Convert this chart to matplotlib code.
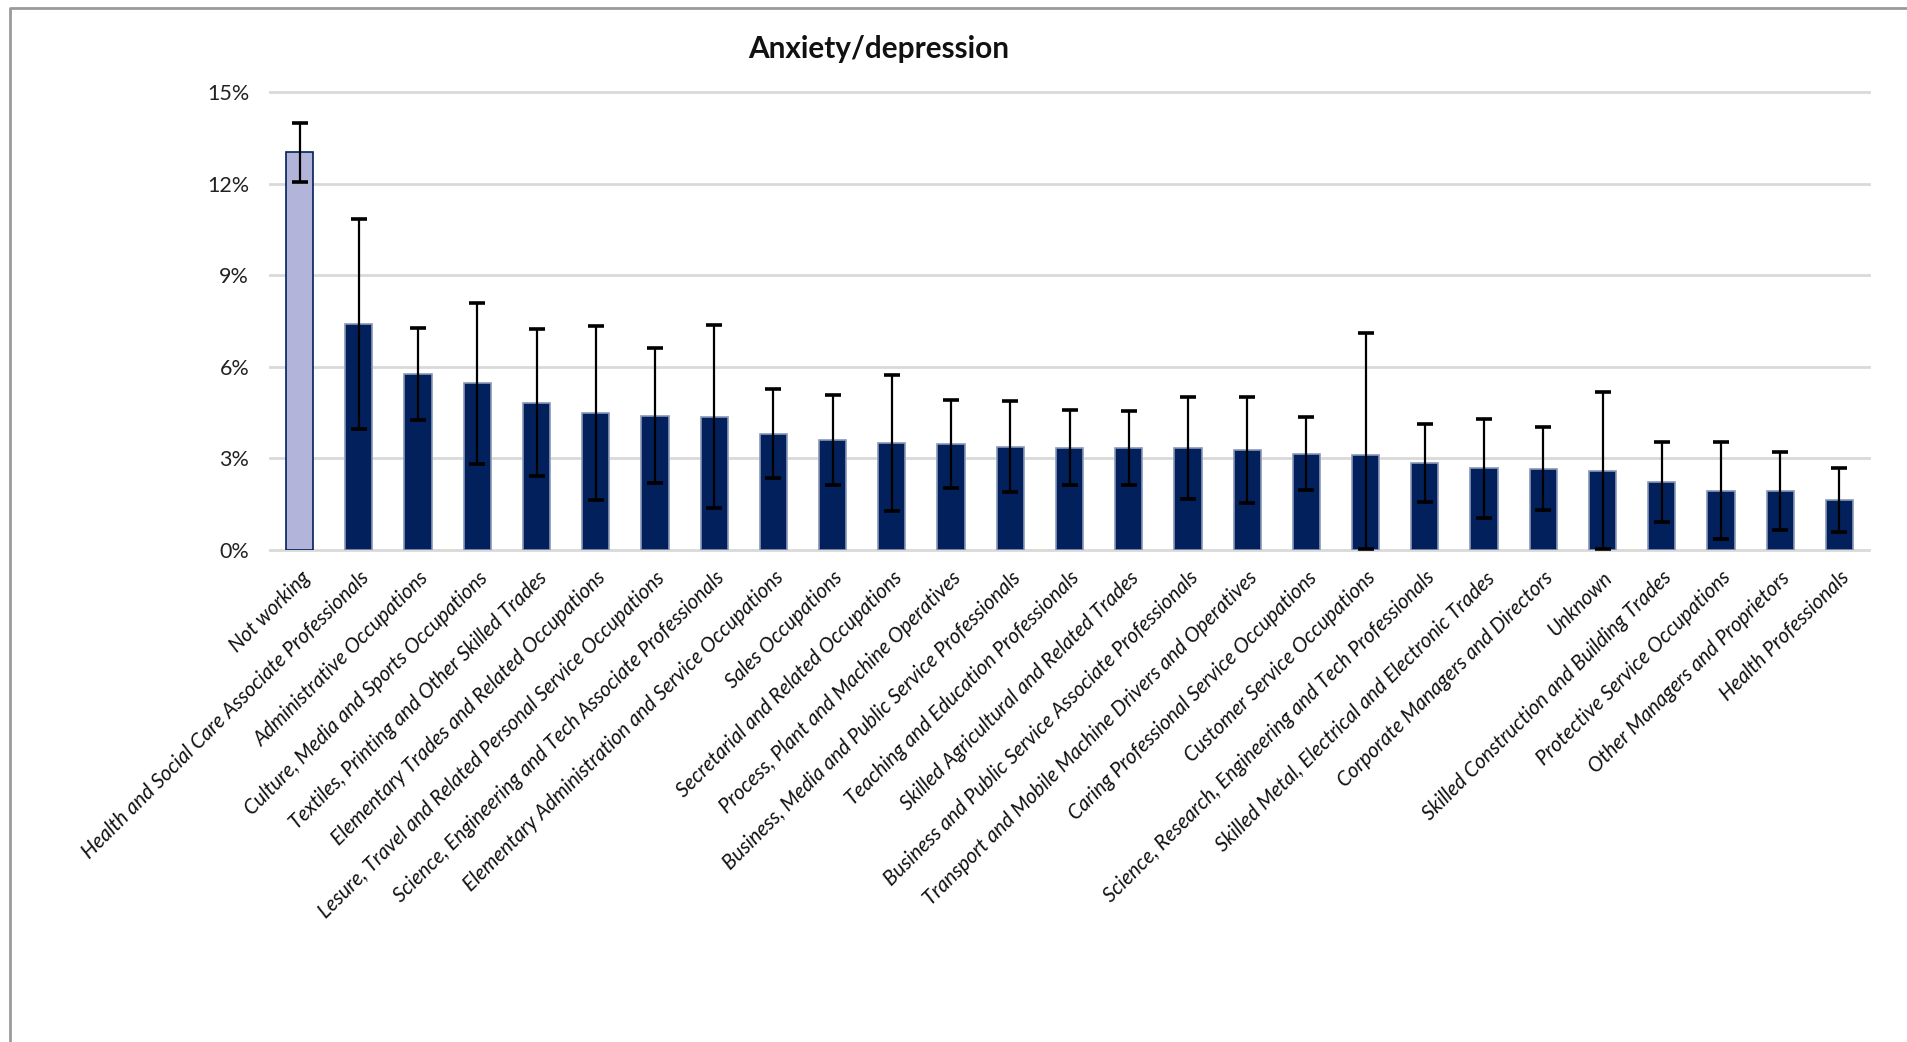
import numpy as np
import matplotlib
matplotlib.use("Agg")
import matplotlib.pyplot as plt
from matplotlib.lines import Line2D
from matplotlib.ticker import PercentFormatter

# occupation categories (x axis)
occupations = [
    "Not working",
    "Health and Social Care Associate Professionals",
    "Administrative Occupations",
    "Culture, Media and Sports Occupations",
    "Textiles, Printing and Other Skilled Trades",
    "Elementary Trades and Related Occupations",
    "Lesure, Travel and Related Personal Service Occupations",
    "Science, Engineering and Tech Associate Professionals",
    "Elementary Administration and Service Occupations",
    "Sales Occupations",
    "Secretarial and Related Occupations",
    "Process, Plant and Machine Operatives",
    "Business, Media and Public Service Professionals",
    "Teaching and Education Professionals",
    "Skilled Agricultural and Related Trades",
    "Business and Public Service Associate Professionals",
    "Transport and Mobile Machine Drivers and Operatives",
    "Caring Professional Service Occupations",
    "Customer Service Occupations",
    "Science, Research, Engineering and Tech Professionals",
    "Skilled Metal, Electrical and Electronic Trades",
    "Corporate Managers and Directors",
    "Unknown",
    "Skilled Construction and Building Trades",
    "Protective Service Occupations",
    "Other Managers and Proprietors",
    "Health Professionals",
]

# prevalence (%) and confidence interval bounds (%)
prevalence = [13.03, 7.39, 5.75, 5.45, 4.81, 4.49, 4.39, 4.36, 3.80, 3.58,
              3.49, 3.46, 3.37, 3.34, 3.33, 3.33, 3.26, 3.14, 3.11, 2.85,
              2.66, 2.65, 2.57, 2.21, 1.92, 1.91, 1.62]
ci_low = [12.06, 3.94, 4.26, 2.81, 2.40, 1.64, 2.18, 1.36, 2.35, 2.11,
          1.27, 2.03, 1.90, 2.12, 2.13, 1.67, 1.54, 1.95, 0.02, 1.57,
          1.02, 1.29, 0.02, 0.90, 0.34, 0.64, 0.57]
ci_high = [14.00, 10.86, 7.27, 8.10, 7.23, 7.34, 6.61, 7.38, 5.26, 5.06,
           5.72, 4.90, 4.86, 4.59, 4.56, 5.02, 5.02, 4.34, 7.10, 4.13,
           4.30, 4.01, 5.16, 3.54, 3.53, 3.20, 2.66]

y = np.array(prevalence) / 100
lo = y - np.array(ci_low) / 100
hi = np.array(ci_high) / 100 - y
x = np.arange(len(occupations))

navy = "#02205c"
colors = ["#b2b4d9"] + [navy] * (len(x) - 1)
edges = [navy] + ["#8a97b8"] * (len(x) - 1)

fig = plt.figure(figsize=(19.07, 10.42), dpi=100)
ax = fig.add_axes([0.1416, 0.4726, 0.8385, 0.4387])

ax.bar(x, y, width=0.46, color=colors, edgecolor=edges, linewidth=1.2, zorder=3)
ax.errorbar(x, y, yerr=[lo, hi], fmt="none", ecolor="black", elinewidth=1.6,
            capsize=6, capthick=2.6, zorder=4)

ax.set_xlim(-0.5, len(x) - 0.5)
ax.set_ylim(0, 0.15)
ax.set_yticks(np.arange(0, 0.151, 0.03))
ax.yaxis.set_major_formatter(PercentFormatter(1.0, decimals=0))
ax.grid(axis="y", color="#d9d9d9", linewidth=2, zorder=0)
for gl in ax.get_ygridlines():
    gl.set_clip_on(False)
for s in ax.spines.values():
    s.set_visible(False)
ax.tick_params(axis="y", length=0, pad=15, labelsize=15.5, labelcolor="#222222")
ax.tick_params(axis="x", length=0, pad=13)
for t in ax.get_yticklabels():
    t.set_family("Lato")

ax.set_xticks(x)
ax.set_xticklabels(occupations, rotation=45, ha="right", rotation_mode="anchor",
                   fontsize=14.8, family="Lato", style="italic", color="#111111")

fig.text(0.461, 0.953, "Anxiety/depression", ha="center", va="center",
         fontsize=21.4, fontweight="bold", family="Lato", color="#111111")

# chart border (left and top edges visible)
fig.add_artist(Line2D([10 / 1907, 10 / 1907, 1.0], [0.0, 1 - 8 / 1042, 1 - 8 / 1042],
                      transform=fig.transFigure, color="#9a9a9a", linewidth=2))

fig.savefig("out.png", dpi=100, facecolor="white")
